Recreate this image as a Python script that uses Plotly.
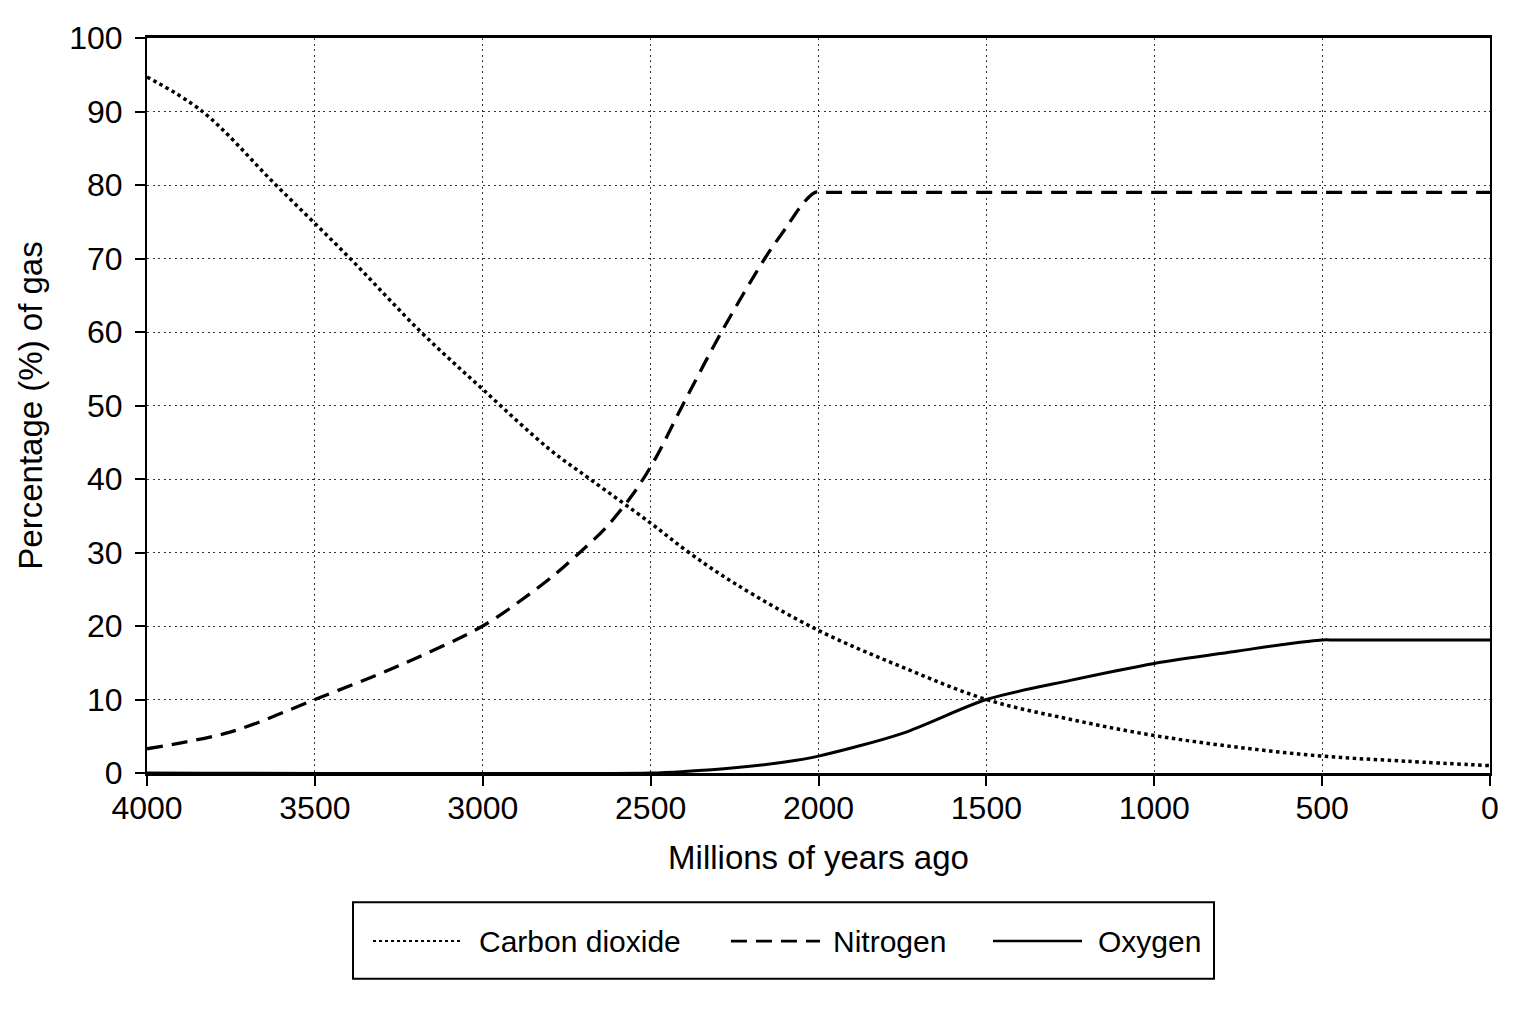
import plotly.graph_objects as go

# values
co2_years = [4000, 3835, 3616, 3395, 3184, 3000, 2800, 2681, 2500, 2386, 2250, 2000,
             1750, 1500, 1250, 1000, 750, 500, 250, 0]
co2_pct = [94.7, 90, 80, 70, 60, 52.2, 44.0, 40, 34.0, 30, 25.8, 19.4,
           14.4, 10, 7.3, 5.1, 3.5, 2.3, 1.6, 1.0]

n2_years = [4000, 3750, 3500, 3250, 3000, 2859, 2780, 2711, 2631, 2547, 2488, 2405, 2289,
            2160, 2095, 2046, 2010, 1980, 0]
n2_pct = [3.3, 5.6, 10, 14.6, 20, 24.4, 27.2, 30, 33.5, 38.3, 42.6, 50, 60,
          70, 74.3, 77.5, 79, 79, 79]

o2_years = [4000, 2500, 2400, 2250, 2100, 2000, 1750, 1500, 1250, 1000, 750, 600, 500, 460, 0]
o2_pct = [0, 0, 0.2, 0.7, 1.5, 2.3, 5.4, 10, 12.6, 14.9, 16.6, 17.6, 18.1, 18.1, 18.1]

gas_names = ["Carbon dioxide", "Nitrogen", "Oxygen"]

FONT = "Liberation Sans, Arial, sans-serif"
DOT = "dot"
DASH = "16px,9px"

fig = go.Figure()
fig.add_trace(go.Scatter(x=co2_years, y=co2_pct, name=gas_names[0], mode="lines",
                         line=dict(color="black", width=3.5, dash=DOT, shape="spline", smoothing=1.0)))
fig.add_trace(go.Scatter(x=n2_years, y=n2_pct, name=gas_names[1], mode="lines",
                         line=dict(color="black", width=3.3, dash=DASH, shape="spline", smoothing=0.9)))
fig.add_trace(go.Scatter(x=o2_years, y=o2_pct, name=gas_names[2], mode="lines",
                         line=dict(color="black", width=3, shape="spline", smoothing=0.8)))

fig.update_xaxes(range=[4000, 0], dtick=500, showgrid=True, gridcolor="#333", griddash="2px,3.5px",
                 gridwidth=1, showline=True, linecolor="black", linewidth=2.5, mirror=True,
                 ticks="outside", ticklen=10, tickcolor="black", tickwidth=2,
                 ticklabelstandoff=-5,
                 tickfont=dict(size=32, color="black", family=FONT),
                 title=dict(text="Millions of years ago", font=dict(size=33, color="black", family=FONT),
                            standoff=21),
                 zeroline=False)
fig.update_yaxes(range=[0, 100], dtick=10, showgrid=True, gridcolor="#333", griddash="2px,3.5px",
                 gridwidth=1, showline=True, linecolor="black", linewidth=2, mirror=True,
                 ticks="outside", ticklen=10, tickcolor="black", tickwidth=2,
                 ticklabelstandoff=6,
                 tickfont=dict(size=32, color="black", family=FONT),
                 title=dict(text="Percentage (%) of gas", font=dict(size=33, color="black", family=FONT),
                            standoff=17),
                 zeroline=False)

# legend drawn as a framed box below the plot
legend_line_x = [(0.1683, 0.2346), (0.4348, 0.5011), (0.6299, 0.6962)]
legend_text_x = [0.2457, 0.5093, 0.7066]
legend_dash = ["dot", DASH, "solid"]
legend_width = [2, 2.8, 2.5]
legend_y = -0.2287
shapes = [dict(type="rect", xref="paper", yref="paper", x0=0.1534, x1=0.7945, y0=-0.2801, y1=-0.1759,
               line=dict(color="black", width=2), fillcolor="white")]
annotations = []
for name, dash, w, (lx0, lx1), tx in zip(gas_names, legend_dash, legend_width, legend_line_x, legend_text_x):
    shapes.append(dict(type="line", xref="paper", yref="paper", x0=lx0, x1=lx1, y0=legend_y, y1=legend_y,
                       line=dict(color="black", width=w, dash=dash)))
    annotations.append(dict(text=name, xref="paper", yref="paper", x=tx, y=legend_y, xanchor="left",
                            yanchor="middle", showarrow=False,
                            font=dict(size=30, color="black", family=FONT)))

fig.update_layout(
    width=1520, height=1008,
    margin=dict(l=139, r=38, t=26, b=243),
    plot_bgcolor="white", paper_bgcolor="white",
    font=dict(family=FONT, color="black"),
    showlegend=False,
    shapes=shapes,
    annotations=annotations,
)

fig.write_html("out.html")
